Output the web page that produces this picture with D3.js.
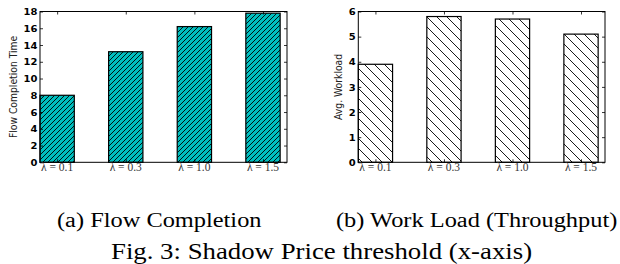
<!DOCTYPE html>
<html>
<head>
<meta charset="utf-8">
<script src="https://cdn.jsdelivr.net/npm/d3@7.9.0/dist/d3.min.js"></script>
<style>
  html, body { margin: 0; padding: 0; background: #fff; }
  svg { display: block; }
  .serif { font-family: "Liberation Serif", "Times New Roman", Times, serif; }
</style>
</head>
<body>
<svg id="fig" width="620" height="264"></svg>
<script>
// categories (shadow price threshold)
const lambdas = ['0.1', '0.3', '1.0', '1.5'];

// (a) flow completion time per threshold
const flowTime = [8.0, 13.2, 16.2, 17.8];
const flowTicks = [0, 2, 4, 6, 8, 10, 12, 14, 16, 18];

// (b) average workload per threshold
const workload = [3.9, 5.8, 5.7, 5.1];
const workTicks = [0, 1, 2, 3, 4, 5, 6];

const svg = d3.select('#fig');
const defs = svg.append('defs');

// hatch patterns, like matplotlib's '////' and '\\'
function hatch(id, step, dir, fill) {
  const p = defs.append('pattern')
    .attr('id', id)
    .attr('patternUnits', 'userSpaceOnUse')
    .attr('width', step)
    .attr('height', step);
  p.append('rect').attr('width', step).attr('height', step).attr('fill', fill);
  const segs = dir === '/'
    ? [[0, step, step, 0], [-step, step, 0, 0], [step, step, 2 * step, 0]]
    : [[0, 0, step, step], [-step, 0, 0, step], [step, 0, 2 * step, step]];
  segs.forEach(s => {
    p.append('line')
      .attr('x1', s[0]).attr('y1', s[1]).attr('x2', s[2]).attr('y2', s[3])
      .attr('stroke', '#000').attr('stroke-width', 0.9);
  });
}
hatch('hatchA', 5, '/', '#00bfbf');
hatch('hatchB', 10, '\\', '#fff');

// draws one panel
function panel(opts) {
  const { left, right, top, bottom, values, ticks, yMax, label, labelGap, fill } = opts;

  const x = d3.scaleLinear().domain([0, 3.6]).range([left, right]);
  const y = d3.scaleLinear().domain([0, yMax]).range([bottom, top]);
  const barW = 0.5;

  const g = svg.append('g');

  // bars
  g.selectAll('rect.bar')
    .data(values)
    .enter()
    .append('rect')
    .attr('class', 'bar')
    .attr('x', (d, i) => x(i))
    .attr('y', d => y(d))
    .attr('width', x(barW) - x(0))
    .attr('height', d => y(0) - y(d))
    .attr('fill', fill)
    .attr('stroke', '#000')
    .attr('stroke-width', 1.2);

  // y axes: inside ticks on both sides
  const yl = d3.axisRight(y).tickValues(ticks).tickSize(3).tickFormat('');
  const yr = d3.axisLeft(y).tickValues(ticks).tickSize(3).tickFormat('');
  g.append('g').attr('transform', `translate(${left},0)`).call(yl);
  g.append('g').attr('transform', `translate(${right},0)`).call(yr);

  // x ticks at bar centres, top and bottom, inside
  const centres = values.map((d, i) => i + barW / 2);
  const xb = d3.axisTop(x).tickValues(centres).tickSize(3).tickFormat('');
  const xt = d3.axisBottom(x).tickValues(centres).tickSize(3).tickFormat('');
  g.append('g').attr('transform', `translate(0,${bottom})`).call(xb);
  g.append('g').attr('transform', `translate(0,${top})`).call(xt);
  g.selectAll('.domain').remove();
  g.selectAll('.tick line').attr('stroke', '#000').attr('stroke-width', 0.8);

  // frame
  g.append('rect')
    .attr('x', left).attr('y', top)
    .attr('width', right - left).attr('height', bottom - top)
    .attr('fill', 'none').attr('stroke', '#000').attr('stroke-width', 1);

  // y tick labels (bold sans)
  g.selectAll('text.ytl')
    .data(ticks)
    .enter()
    .append('text')
    .attr('class', 'ytl')
    .attr('transform', d => `translate(${left - 2.5},${y(d) + 3.6}) scale(1,0.88)`)
    .attr('text-anchor', 'end')
    .attr('font-family', 'DejaVu Sans')
    .attr('font-weight', 'bold')
    .attr('font-size', 10)
    .text(d => d);

  // x tick labels (math style)
  g.selectAll('text.xtl')
    .data(lambdas)
    .enter()
    .append('text')
    .attr('class', 'xtl serif')
    .attr('x', (d, i) => x(i + barW / 2))
    .attr('y', bottom + 9)
    .attr('text-anchor', 'middle')
    .attr('font-size', 11.5)
    .attr('fill', '#333')
    .text(d => `λ = ${d}`);

  // y label
  g.append('text')
    .attr('transform', `translate(${left - labelGap},${(top + bottom) / 2}) rotate(-90) scale(0.88,1)`)
    .attr('text-anchor', 'middle')
    .attr('font-family', 'DejaVu Sans')
    .attr('font-size', 10.5)
    .attr('fill', '#222')
    .text(label);
}

panel({
  left: 40, right: 287, top: 11.5, bottom: 162.3,
  values: flowTime, ticks: flowTicks, yMax: 18,
  label: 'Flow Completion Time', labelGap: 23, fill: 'url(#hatchA)'
});

panel({
  left: 358.3, right: 605, top: 11.5, bottom: 162.3,
  values: workload, ticks: workTicks, yMax: 6,
  label: 'Avg. Workload', labelGap: 16, fill: 'url(#hatchB)'
});

// captions
const caps = [
  { text: '(a) Flow Completion', x: 57, y: 226.5, size: 24.4 },
  { text: '(b) Work Load (Throughput)', x: 336, y: 226.5, size: 24.4 },
  { text: 'Fig. 3: Shadow Price threshold (x-axis)', x: 111, y: 259, size: 26.8 }
];
svg.selectAll('text.cap')
  .data(caps)
  .enter()
  .append('text')
  .attr('class', 'cap serif')
  .attr('transform', d => `translate(${d.x},${d.y}) scale(1,0.84)`)
  .attr('font-size', d => d.size)
  .attr('fill', '#000')
  .text(d => d.text);
</script>
</body>
</html>
